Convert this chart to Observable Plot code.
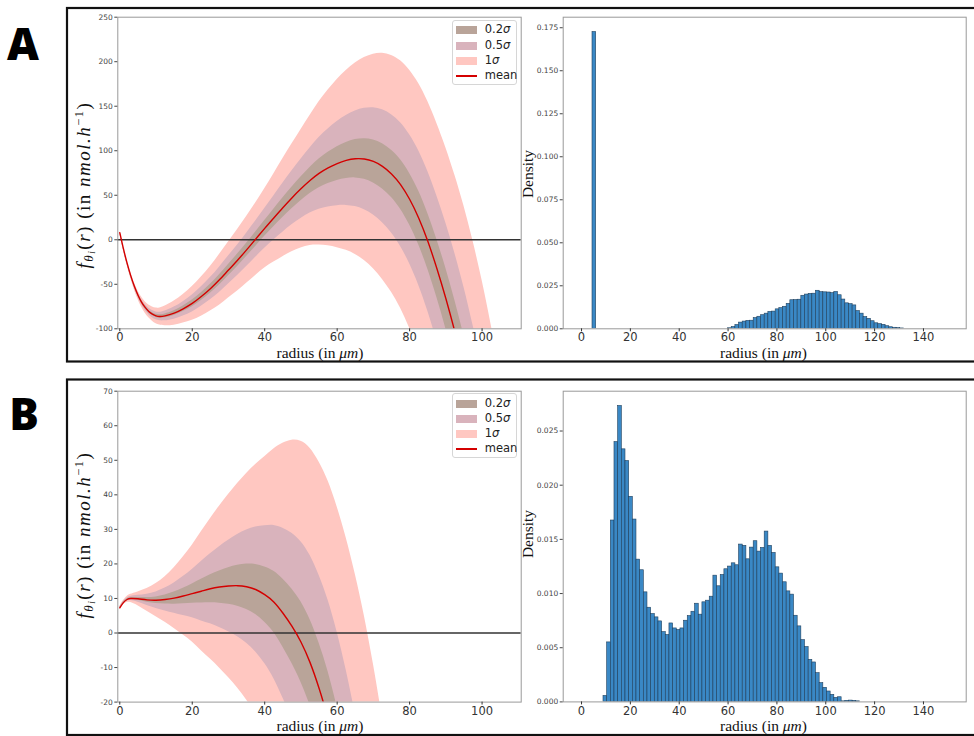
<!DOCTYPE html>
<html><head><meta charset="utf-8">
<script src="https://cdn.jsdelivr.net/npm/d3@7"></script>
<script src="https://cdn.jsdelivr.net/npm/@observablehq/plot@0.6"></script>
<style>
body{margin:0;background:#fff;}
#fig{position:relative;width:974px;height:736px;overflow:hidden;background:#fff;font-family:"DejaVu Sans",sans-serif;}
#fig > svg{position:absolute;left:0;top:0;}
.legend{position:absolute;box-sizing:border-box;border:1px solid #d6d6d6;border-radius:3px;background:rgba(255,255,255,0.85);font-family:"DejaVu Sans",sans-serif;font-size:11.5px;color:#222;}
.legend .row{position:absolute;left:0;height:14px;width:100%;}
.legend .patch{position:absolute;left:3px;top:3px;width:21px;height:8px;}
.legend .ln{position:absolute;left:3px;top:6px;width:21px;height:1.6px;background:#d40000;}
.legend .txt{position:absolute;left:32px;top:-1px;line-height:14px;white-space:nowrap;}
</style></head>
<body><div id="fig"></div>
<script>
// ---------- data ----------
const radiusA = [0,1,2,3,4,5,6,7,8,9,10,11,12.5,15,17.5,20,22.5,25,27.5,30,32.5,35,37.5,40,42.5,45,47.5,50,52.5,55,57.5,60,62.5,65,67.5,70,72.5,75,77.5,80,82.5,85,87.5,90,92.5,95,97.5,100,102.5,105];
const meanA = [8,-10,-26,-40,-52,-62,-70,-76,-80.5,-83.5,-85.5,-86.2,-85.5,-82.4,-77.5,-71.5,-63.8,-55,-45,-34,-23,-11.3,0.7,12.8,24.5,36,47,57.2,66.5,74.5,80.7,85.6,89.1,91,90.7,88,82.5,74,62,45.5,24.5,-1.5,-32,-66,-103.5,-144.5,-190.5,-241.5,-298.5,-361.5];
const sigmaA = [1.5,2,2.6,3.3,4,4.8,5.6,6.4,7.2,8,8.8,9.6,11,13.5,16,19,22,25,28.5,31.5,34.5,37.5,40.7,44.5,49.5,55,60.5,66.5,73,80.5,87.5,94.5,101,107.5,114,120.5,127,133,139,145,151,157,163,169.5,176,182.5,189,196,203,210];

const radiusB = [0,1,2,3,5,7.5,10,12.5,15,17.5,20,22.5,25,27.5,30,32.5,35,37.5,40,42.5,45,47.5,50,52.5,55,57.5,60,62.5,65,67.5,70,72.5,75];
const meanB = [7.3,8.8,9.7,10,9.9,9.6,9.5,9.7,10.1,10.7,11.4,12.1,12.8,13.3,13.6,13.7,13.4,12.6,11.1,9,5.8,2,-2.6,-8.5,-16,-25,-36,-49,-64,-81,-100,-121,-145];
const sigmaB = [0.4,0.6,0.9,1.2,2,3.3,4.8,6.6,8.8,11.3,14,17.2,20.3,23.4,26.5,29.6,32.8,36.2,39.9,44.3,49.1,53.8,58.1,62,65.5,69,72.5,76.5,81,86,91,96,101];

const bandLevels = [1, 0.5, 0.2];
const legendLabels = ["0.2", "0.5", "1", "mean"];

const binWidth = 1.5;
const histAEdges = [4.5,60,61.5,63,64.5,66,67.5,69,70.5,72,73.5,75,76.5,78,79.5,81,82.5,84,85.5,87,88.5,90,91.5,93,94.5,96,97.5,99,100.5,102,103.5,105,106.5,108,109.5,111,112.5,114,115.5,117,118.5,120,121.5,123,124.5,126,127.5,129,130.5];
const histADensity = [0.1725,0.0003,0.001,0.0022,0.0036,0.0042,0.0046,0.0047,0.0062,0.007,0.0079,0.0088,0.0098,0.01,0.0113,0.012,0.0128,0.0145,0.0166,0.0167,0.0169,0.0192,0.0199,0.0203,0.0204,0.0221,0.0213,0.0212,0.0211,0.0207,0.0214,0.0195,0.017,0.0148,0.0143,0.0136,0.0103,0.0088,0.0068,0.0058,0.0044,0.0032,0.0027,0.0023,0.0015,0.0009,0.0006,0.0004,0.0002];

const histBEdges = [9,10.5,12,13.5,15,16.5,18,19.5,21,22.5,24,25.5,27,28.5,30,31.5,33,34.5,36,37.5,39,40.5,42,43.5,45,46.5,48,49.5,51,52.5,54,55.5,57,58.5,60,61.5,63,64.5,66,67.5,69,70.5,72,73.5,75,76.5,78,79.5,81,82.5,84,85.5,87,88.5,90,91.5,93,94.5,96,97.5,99,100.5,102,103.5,105,106.5,108,109.5,111,112.5];
const histBDensity = [0.00055,0.00549,0.01674,0.02398,0.02731,0.02331,0.02223,0.01893,0.01683,0.01313,0.01215,0.01011,0.00869,0.00811,0.0078,0.00743,0.00644,0.00617,0.00724,0.00678,0.00663,0.00678,0.00749,0.00792,0.00832,0.00906,0.00805,0.00919,0.00934,0.00971,0.01165,0.01067,0.01171,0.01224,0.01249,0.01279,0.01261,0.01452,0.0144,0.01316,0.01424,0.01483,0.01387,0.01421,0.01572,0.0144,0.01375,0.01242,0.01184,0.01104,0.0102,0.0099,0.00795,0.00697,0.0057,0.00506,0.00388,0.00364,0.00265,0.00173,0.0013,0.00096,0.00065,0.00037,0.00043,0.00005,0.0001,0.00012,0.0001,0.00005];

const curveXTicks = [0,20,40,60,80,100];
const histXTicks = [0,20,40,60,80,100,120,140];
const yTicksA = [-100,-50,0,50,100,150,200,250];
const yTicksB = [-20,-10,0,10,20,30,40,50,60,70];
const densTicksA = [0,0.025,0.05,0.075,0.1,0.125,0.15,0.175];
const densTicksB = [0,0.005,0.01,0.015,0.02,0.025];

// ---------- styles ----------
const W = 974, H = 736;
const bandColors = ["#ffc7c1", "#d9b3bc", "#b9a499"]; // 1σ, 0.5σ, 0.2σ
const meanColor = "#d40000";
const barFill = "#3a88c5", barStroke = "#1f3f5c";
const frameColor = "#999";

const fig = document.getElementById("fig");

function curvePlot(radius, mean, sigma, yDomain, yTicks, top, bottom) {
  const rows = radius.map((r, i) => ({r, m: mean[i], s: sigma[i]}));
  return Plot.plot({
    width: W, height: H,
    marginLeft: 117.3, marginRight: W - 520.7, marginTop: top, marginBottom: H - bottom,
    style: {background: "transparent", fontFamily: "DejaVu Sans", overflow: "visible"},
    x: {domain: [-0.55, 110.8]},
    y: {domain: yDomain},
    marks: [
      ...bandLevels.map((k, j) => Plot.area(rows, {x1: "r", y1: d => d.m - k * d.s, y2: d => d.m + k * d.s, fill: bandColors[j], curve: "natural", clip: true})),
      Plot.ruleY([0], {stroke: "#333", strokeWidth: 1.3}),
      Plot.line(rows, {x: "r", y: "m", stroke: meanColor, strokeWidth: 1.4, curve: "natural", clip: true}),
      Plot.frame({stroke: frameColor}),
      Plot.axisX({ticks: curveXTicks, tickSize: 3, tickPadding: 1.5, fontSize: 11.5, color: "#333", label: null, tickFormat: d => String(d)}),
      Plot.axisY({ticks: yTicks, tickSize: 3, tickPadding: 2, fontSize: 7.5, color: "#444", label: null, tickFormat: d => String(d)})
    ]
  });
}

function histPlot(edges, dens, yMax, yTicks, top, bottom) {
  const rows = edges.map((e, i) => ({a: e, b: e + binWidth, d: dens[i]}));
  return Plot.plot({
    width: W, height: H,
    marginLeft: 562.7, marginRight: W - 965.7, marginTop: top, marginBottom: H - bottom,
    style: {background: "transparent", fontFamily: "DejaVu Sans", overflow: "visible"},
    x: {domain: [-7.5, 157.5]},
    y: {domain: [0, yMax]},
    marks: [
      Plot.rect(rows, {x1: "a", x2: "b", y1: () => 0, y2: "d", fill: barFill, stroke: barStroke, strokeWidth: 0.6, clip: true}),
      Plot.frame({stroke: frameColor}),
      Plot.axisX({ticks: histXTicks, tickSize: 3, tickPadding: 1.5, fontSize: 11.5, color: "#333", label: null, tickFormat: d => String(d)}),
      Plot.axisY({ticks: yTicks, tickSize: 3, tickPadding: 2, fontSize: 7.5, color: "#444", label: null, tickFormat: d3.format(".3f")})
    ]
  });
}

fig.append(curvePlot(radiusA, meanA, sigmaA, [-100, 250], yTicksA, 16.7, 328.3));
fig.append(histPlot(histAEdges, histADensity, d3.max(histADensity) * 1.05, densTicksA, 16.7, 328.3));
fig.append(curvePlot(radiusB, meanB, sigmaB, [-20, 70], yTicksB, 390.7, 701.6));
fig.append(histPlot(histBEdges, histBDensity, d3.max(histBDensity) * 1.05, densTicksB, 390.7, 701.4));

// ---------- legends ----------
function legend(left, top) {
  const box = d3.select(fig).append("div").attr("class", "legend")
    .style("left", left + "px").style("top", top + "px").style("width", "65px").style("height", "65px");
  const colors = [bandColors[2], bandColors[1], bandColors[0]];
  legendLabels.forEach((lab, i) => {
    const row = box.append("div").attr("class", "row").style("top", (2.3 + i * 15.3) + "px");
    if (i < 3) {
      row.append("div").attr("class", "patch").style("background", colors[i]);
      row.append("div").attr("class", "txt").html(lab + "<i>σ</i>");
    } else {
      row.append("div").attr("class", "ln");
      row.append("div").attr("class", "txt").text(lab);
    }
  });
}
legend(451.7, 20);
legend(451.7, 393.3);

// ---------- frames, panel letters and axis titles ----------
const ov = d3.select(fig).append("svg").attr("width", W).attr("height", H).style("pointer-events", "none");
ov.append("rect").attr("x", 67).attr("y", 8).attr("width", 915).attr("height", 353.5).attr("fill", "none").attr("stroke", "#111").attr("stroke-width", 2.2);
ov.append("rect").attr("x", 67).attr("y", 379.5).attr("width", 915).attr("height", 355.5).attr("fill", "none").attr("stroke", "#111").attr("stroke-width", 2.2);
ov.append("text").attr("x", 23).attr("y", 60).attr("text-anchor", "middle").attr("font-family", "Open Sans").attr("font-weight", 800).attr("font-size", 44).text("A");
ov.append("text").attr("x", 24).attr("y", 430).attr("text-anchor", "middle").attr("font-family", "Open Sans").attr("font-weight", 800).attr("font-size", 44).text("B");

const serif = "Liberation Serif";
function xTitle(cx, y) {
  const t = ov.append("text").attr("x", cx).attr("y", y).attr("text-anchor", "middle").attr("font-family", serif).attr("font-size", 15.5).attr("fill", "#111");
  t.append("tspan").text("radius (in ");
  t.append("tspan").attr("font-style", "italic").text("μm");
  t.append("tspan").text(")");
}
xTitle(320, 357.8); xTitle(763.5, 357.8);
xTitle(320, 731.2); xTitle(763.5, 731.2);

function fTitle(x, cy) {
  const t = ov.append("text").attr("transform", `translate(${x},${cy}) rotate(-90)`).attr("text-anchor", "middle").attr("font-family", serif).attr("font-size", 19).attr("letter-spacing", 1.5).attr("fill", "#111");
  t.append("tspan").attr("font-style", "italic").text("f");
  t.append("tspan").attr("font-style", "italic").attr("font-size", 13).attr("dy", 3).text("θ");
  t.append("tspan").attr("font-style", "italic").attr("font-size", 9.5).attr("dy", 2).text("i");
  t.append("tspan").attr("dy", -5).text("(");
  t.append("tspan").attr("font-style", "italic").text("r");
  t.append("tspan").text(") (in ");
  t.append("tspan").attr("font-style", "italic").text("nmol.h");
  t.append("tspan").attr("font-size", 12.5).attr("dy", -7).text("−1");
  t.append("tspan").attr("dy", 7).text(")");
}
fTitle(90, 185); fTitle(90, 535);

function dTitle(x, cy) {
  ov.append("text").attr("transform", `translate(${x},${cy}) rotate(-90)`).attr("text-anchor", "middle").attr("font-family", serif).attr("font-size", 15.5).attr("fill", "#111").text("Density");
}
dTitle(533, 174); dTitle(533, 534);
</script>
</body></html>
